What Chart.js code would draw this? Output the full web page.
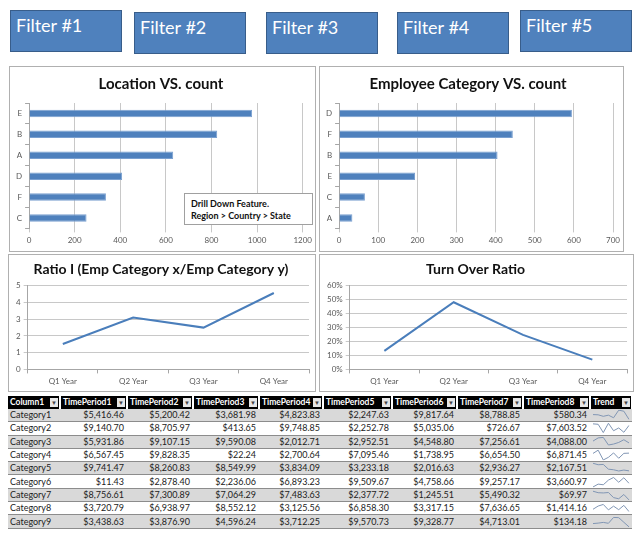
<!DOCTYPE html>
<html>
<head>
    <title>Dashboard</title>
    <script src="https://cdn.jsdelivr.net/npm/chart.js"></script>
    <style>
        body { margin: 0; background: #fff; font-family: Lato, "Open Sans", sans-serif; }
        .filter { position: absolute; width: 112px; height: 42px; background: #4f81bd; border: 1px solid #385d8a;
                  color: #fff; font-size: 18px; padding: 0 0 0 5px; box-sizing: border-box; line-height: 28px; }
        .panel { position: absolute; border: 1px solid #b0b0b0; background: #fff; }
        .panel canvas { position: absolute; left: 0; top: 0; }
        .note { position: absolute; left: 174px; top: 126px; width: 129px; height: 32px; border: 1px solid #a0a0a0;
                background: #fff; font-size: 9px; font-weight: bold; line-height: 12px; padding: 4px 0 0 6px; box-sizing: border-box; color: #111; }
        #tbl { position: absolute; left: 8px; top: 396px; border-collapse: collapse; table-layout: fixed; width: 624px; font-size: 9px; color: #222; }
        #tbl th { position: relative; background: #000; color: #fff; font-weight: bold; text-align: left; height: 13px; padding: 0 0 0 2px;
                  border-right: 2px solid #fff; white-space: nowrap; overflow: hidden; line-height: 13px; font-size: 8.5px; }
        #tbl th span { position: absolute; right: 1px; top: 2px; width: 8px; height: 9px; background: #e6e6e6; color: #444; font-size: 6px; line-height: 9px; text-align: center; }
        #tbl td { height: 12.3px; padding: 0 3px 0 2px; border-bottom: 1px solid #8c8c8c; text-align: right; white-space: nowrap; line-height: 12px; }
        #tbl td:first-child { text-align: left; }
        #tbl tr.odd td { background: #d9d9d9; }
        #tbl td.trend { padding: 0 0 0 2px; }
        #tbl td.trend canvas { display: block; }
    </style>
</head>
<body>
    <div class="filter" style="left:10px; top:10px;">Filter #1</div>
    <div class="filter" style="left:134px; top:12px;">Filter #2</div>
    <div class="filter" style="left:266px; top:12px;">Filter #3</div>
    <div class="filter" style="left:397px; top:12px;">Filter #4</div>
    <div class="filter" style="left:520px; top:10px;">Filter #5</div>

    <div class="panel" style="left:9px; top:66px; width:305px; height:184px;">
        <canvas id="locChart" width="305" height="184"></canvas>
        <div class="note">Drill Down Feature.<br>Region &gt; Country &gt; State</div>
    </div>
    <div class="panel" style="left:319px; top:66px; width:303px; height:184px;">
        <canvas id="empChart" width="303" height="184"></canvas>
    </div>
    <div class="panel" style="left:8px; top:254px; width:306px; height:136px;">
        <canvas id="ratioChart" width="306" height="136"></canvas>
    </div>
    <div class="panel" style="left:319px; top:254px; width:313px; height:136px;">
        <canvas id="turnChart" width="313" height="136"></canvas>
    </div>

    <table id="tbl"></table>

    <script>
        // dati del cruscotto
        const locLabels = ['E', 'B', 'A', 'D', 'F', 'C'];
        const locCounts = [978, 825, 632, 408, 337, 252];
        const empLabels = ['D', 'F', 'B', 'E', 'C', 'A'];
        const empCounts = [595, 444, 405, 194, 66, 34];
        const quarters = ['Q1 Year', 'Q2 Year', 'Q3 Year', 'Q4 Year'];
        const ratioValues = [1.52, 3.1, 2.5, 4.57];
        const turnoverPct = [13.3, 48.2, 24.8, 7.0];

        const tableColumns = ['Column1', 'TimePeriod1', 'TimePeriod2', 'TimePeriod3', 'TimePeriod4',
                              'TimePeriod5', 'TimePeriod6', 'TimePeriod7', 'TimePeriod8', 'Trend'];
        const categories = ['Category1', 'Category2', 'Category3', 'Category4', 'Category5',
                            'Category6', 'Category7', 'Category8', 'Category9'];
        const periodValues = [
            [5416.46, 5200.42, 3681.98, 4823.83, 2247.63, 9817.64, 8788.85, 580.34],
            [9140.70, 8705.97, 413.65, 9748.85, 2252.78, 5035.06, 726.67, 7603.52],
            [5931.86, 9107.15, 9590.08, 2012.71, 2952.51, 4548.80, 7256.61, 4088.00],
            [6567.45, 9828.35, 22.24, 2700.64, 7095.46, 1738.95, 6654.50, 6871.45],
            [9741.47, 8260.83, 8549.99, 3834.09, 3233.18, 2016.63, 2936.27, 2167.51],
            [11.43, 2878.40, 2236.06, 6893.23, 9509.67, 4758.66, 9257.17, 3660.97],
            [8756.61, 7300.89, 7064.29, 7483.63, 2377.72, 1245.51, 5490.32, 69.97],
            [3720.79, 6938.97, 8552.12, 3125.56, 6858.30, 3317.15, 7636.65, 1414.16],
            [3438.63, 3876.90, 4596.24, 3712.25, 9570.73, 9328.77, 4713.01, 134.18]
        ];

        Chart.defaults.font.family = 'Lato, "Open Sans", sans-serif';
        Chart.defaults.color = '#595959';
        Chart.defaults.animation = false;

        const titleFont = { size: 15, weight: 'bold' };

        function barChart(id, labels, values, max, step, title, padRight) {
            return new Chart(document.getElementById(id), {
                type: 'bar',
                data: {
                    labels: labels,
                    datasets: [{
                        data: values,
                        backgroundColor: '#4f81bd',
                        borderColor: '#7aa0d0',
                        borderWidth: 1,
                        barPercentage: 0.36,
                        categoryPercentage: 1
                    }]
                },
                options: {
                    indexAxis: 'y',
                    responsive: false,
                    layout: { padding: { left: 3, right: padRight, top: 0, bottom: 3 } },
                    plugins: {
                        legend: { display: false },
                        tooltip: { enabled: false },
                        title: { display: true, text: title, color: '#111', font: titleFont, padding: { top: 8, bottom: 10 } }
                    },
                    scales: {
                        x: {
                            min: 0, max: max,
                            ticks: { stepSize: step, font: { size: 8 }, callback: v => String(v) },
                            grid: { color: '#c8c8c8', tickLength: 4 },
                            border: { display: false }
                        },
                        y: {
                            ticks: { font: { size: 8 } },
                            grid: { drawOnChartArea: false, tickLength: 4, color: '#a6a6a6' },
                            border: { color: '#a6a6a6' }
                        }
                    }
                }
            });
        }

        function lineChart(id, values, max, step, title, fmt) {
            return new Chart(document.getElementById(id), {
                type: 'line',
                data: {
                    labels: quarters,
                    datasets: [{
                        data: values,
                        borderColor: '#4a7ebb',
                        borderWidth: 2,
                        pointRadius: 0,
                        tension: 0
                    }]
                },
                options: {
                    responsive: false,
                    layout: { padding: { left: 4, right: 6, top: 0, bottom: 2 } },
                    plugins: {
                        legend: { display: false },
                        tooltip: { enabled: false },
                        title: { display: true, text: title, color: '#111', font: { size: 14, weight: 'bold' }, padding: { top: 6, bottom: 8 } }
                    },
                    scales: {
                        x: {
                            offset: true,
                            ticks: { font: { size: 8 } },
                            grid: { drawOnChartArea: false, tickLength: 4, color: '#a6a6a6', offset: true },
                            border: { color: '#a6a6a6' }
                        },
                        y: {
                            min: 0, max: max,
                            ticks: { stepSize: step, font: { size: 8 }, callback: fmt },
                            grid: { color: '#c8c8c8', tickLength: 4 },
                            border: { color: '#a6a6a6' }
                        }
                    }
                }
            });
        }

        barChart('locChart', locLabels, locCounts, 1200, 200, 'Location VS. count', 6);
        barChart('empChart', empLabels, empCounts, 700, 100, 'Employee Category VS. count', 10);
        lineChart('ratioChart', ratioValues, 5, 1, 'Ratio I (Emp Category x/Emp Category y)', v => v);
        lineChart('turnChart', turnoverPct, 60, 10, 'Turn Over Ratio', v => v + '%');

        // tabella con sparkline
        const colWidths = [52, 67, 66, 66, 64, 69, 65, 66, 67, 42];
        const tbl = document.getElementById('tbl');
        let html = '<colgroup>' + colWidths.map(w => `<col style="width:${w}px">`).join('') + '</colgroup>';
        html += '<tr>' + tableColumns.map(c => `<th>${c}<span>&#9660;</span></th>`).join('') + '</tr>';
        const money = v => '$' + v.toLocaleString('en-US', { minimumFractionDigits: 2, maximumFractionDigits: 2 });
        categories.forEach((cat, i) => {
            html += `<tr class="${i % 2 === 0 ? 'odd' : ''}"><td>${cat}</td>` +
                periodValues[i].map(v => `<td>${money(v)}</td>`).join('') +
                `<td class="trend"><canvas id="spark${i}" width="38" height="12"></canvas></td></tr>`;
        });
        tbl.innerHTML = html;

        categories.forEach((cat, i) => {
            new Chart(document.getElementById('spark' + i), {
                type: 'line',
                data: {
                    labels: periodValues[i].map((v, j) => j),
                    datasets: [{ data: periodValues[i], borderColor: '#8196b4', borderWidth: 1, pointRadius: 0, tension: 0 }]
                },
                options: {
                    responsive: false,
                    layout: { padding: 1 },
                    plugins: { legend: { display: false }, tooltip: { enabled: false } },
                    scales: { x: { display: false }, y: { display: false } }
                }
            });
        });
    </script>
</body>
</html>
